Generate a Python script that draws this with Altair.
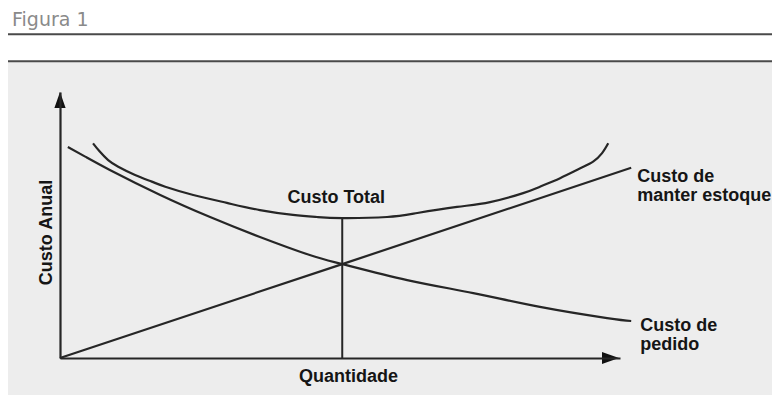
import altair as alt
import pandas as pd

# ---- values (arbitrary units: quantity 0-100, cost 0-100) ----
order_q = [1.4, 4.5, 8.9, 17.9, 26.8, 35.7, 44.6, 50.4, 62.0, 73.8, 85.7, 97.7, 102.0]
order_c = [79.3, 75.7, 70.7, 61.3, 53.0, 45.5, 38.7, 35.3, 29.3, 24.4, 19.2, 15.0, 13.9]

hold_q = [0.0, 50.4, 102.0]
hold_c = [0.0, 35.3, 71.5]

total_q = [5.9, 7.1, 8.6, 10.4, 13.4, 16.4, 18.8, 23.8, 29.8, 35.7, 41.6, 45.9,
           50.4, 58.4, 63.8, 70.9, 76.8, 82.7, 85.7, 89.3, 92.9, 95.2, 96.8, 97.9]
total_c = [80.7, 77.6, 74.4, 71.9, 68.8, 66.3, 64.4, 61.3, 58.3, 55.6, 53.8, 53.0,
           52.6, 53.0, 54.5, 56.8, 58.6, 62.0, 64.4, 67.6, 71.3, 73.8, 77.0, 80.7]

opt_q = 50.4
opt_c = 52.6

arrow_q = [0.0, 98.3]
arrow_c = [97.0, 0.0]

header_text = "Figura 1"
x_title = "Quantidade"
y_title = "Custo Anual"
hold_label = "Custo de\nmanter estoque"
order_label = "Custo de\npedido"
total_label = "Custo Total"

# ---- styles ----
INK = "#262626"
FONT = "Liberation Sans, Arial, Helvetica, sans-serif"
W, H = 560, 266

order_df = pd.DataFrame({"q": order_q, "c": order_c})
hold_df = pd.DataFrame({"q": hold_q, "c": hold_c})
total_df = pd.DataFrame({"q": total_q, "c": total_c})
opt_df = pd.DataFrame({"q": [opt_q], "c": [0.0], "c2": [opt_c]})
one = pd.DataFrame({"k": [0]})

xs = alt.Scale(domain=[0, 100], nice=False, zero=False)
ys = alt.Scale(domain=[0, 100], nice=False, zero=False)

x_axis = alt.Axis(title=x_title, domain=True, domainColor=INK, domainWidth=2.2,
                  ticks=False, labels=False, grid=False, zindex=1,
                  titleFont=FONT, titleFontSize=18, titleFontWeight="bold",
                  titleColor="#151515", titleX=288, titleY=23,
                  titleAlign="center", titleBaseline="alphabetic")
y_axis = alt.Axis(title=y_title, domain=True, domainColor=INK, domainWidth=2.2,
                  ticks=False, labels=False, grid=False, zindex=1,
                  titleFont=FONT, titleFontSize=18, titleFontWeight="bold",
                  titleColor="#151515", titleAngle=270, titleX=-9, titleY=140,
                  titleAlign="center", titleBaseline="alphabetic")

X = alt.X("q:Q", scale=xs, axis=x_axis)
Y = alt.Y("c:Q", scale=ys, axis=y_axis)

# background panel and header
bg = alt.Chart(one).mark_rect(color="#ededed").encode(
    x=alt.value(-52), x2=alt.value(712), y=alt.value(-30), y2=alt.value(303))
line1 = alt.Chart(one).mark_rule(color="#4a4a4a", strokeWidth=2).encode(
    x=alt.value(-52), x2=alt.value(712), y=alt.value(-57.7))
line2 = alt.Chart(one).mark_rule(color="#4a4a4a", strokeWidth=2).encode(
    x=alt.value(-52), x2=alt.value(712), y=alt.value(-30.7))
header = alt.Chart(one).mark_text(
    text=header_text, font="DejaVu Sans, sans-serif", fontSize=19, color="#8a8a8a",
    align="left", baseline="alphabetic").encode(x=alt.value(-48), y=alt.value(-66))

curve_style = dict(color=INK, strokeWidth=2.2)
order_line = alt.Chart(order_df).mark_line(interpolate="natural", **curve_style).encode(x=X, y=Y)
hold_line = alt.Chart(hold_df).mark_line(**curve_style).encode(x=X, y=Y)
total_line = alt.Chart(total_df).mark_line(interpolate="natural", **curve_style).encode(x=X, y=Y)

opt_rule = alt.Chart(opt_df).mark_rule(color=INK, strokeWidth=2).encode(
    x=X, y=Y, y2="c2:Q")

arrow_up = alt.Chart(pd.DataFrame({"q": [arrow_q[0]], "c": [arrow_c[0]]})).mark_point(
    shape="M0,-1L0.7,1L-0.7,1Z", filled=True, size=256, color="#111", opacity=1
).encode(x=X, y=Y)
arrow_right = alt.Chart(pd.DataFrame({"q": [arrow_q[1]], "c": [arrow_c[1]]})).mark_point(
    shape="M1,0L-1,-0.7L-1,0.7Z", filled=True, size=289, color="#111", opacity=1
).encode(x=X, y=Y)

label_style = dict(font=FONT, fontSize=18, fontWeight="bold", color="#151515",
                   lineBreak="\n", lineHeight=19, baseline="alphabetic")

hold_txt = alt.Chart(pd.DataFrame({"q": [hold_q[-1]], "c": [hold_c[-1]], "t": [hold_label]})).mark_text(
    align="left", dx=6, dy=14, **label_style).encode(x=X, y=Y, text="t:N")
order_txt = alt.Chart(pd.DataFrame({"q": [order_q[-1]], "c": [order_c[-1]], "t": [order_label]})).mark_text(
    align="left", dx=9, dy=10, **label_style).encode(x=X, y=Y, text="t:N")
total_txt = alt.Chart(pd.DataFrame({"q": [opt_q], "c": [opt_c], "t": [total_label]})).mark_text(
    align="center", dx=-6, dy=-15, **label_style).encode(x=X, y=Y, text="t:N")

chart = alt.layer(
    bg, line1, line2, header,
    order_line, hold_line, total_line, opt_rule,
    arrow_up, arrow_right,
    hold_txt, order_txt, total_txt,
).properties(
    width=W, height=H,
    autosize=alt.AutoSizeParams(type="none"),
    padding={"left": 52, "top": 84, "right": 152, "bottom": 37},
).configure_view(stroke=None).configure(background="#ffffff")

chart.save("out.html", embed_options={"renderer": "svg", "actions": False})
